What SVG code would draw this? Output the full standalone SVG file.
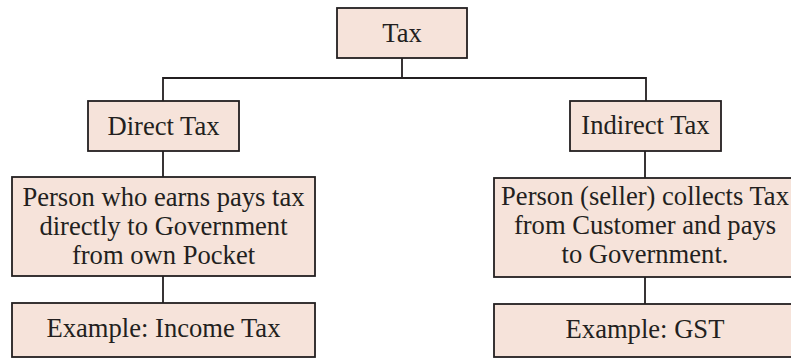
<svg xmlns="http://www.w3.org/2000/svg" width="791" height="358" viewBox="0 0 791 358">
  <style>
    .box { fill: #f6e3da; stroke: #231f20; stroke-width: 1.8; }
    .wire { fill: none; stroke: #231f20; stroke-width: 1.8; }
    .lbl { font-family: "Liberation Serif", "Times New Roman", serif; font-size: 26.6px; fill: #231f20; text-anchor: middle; }
  </style>
  <rect width="791" height="358" fill="#ffffff"/>

  <!-- connectors -->
  <g id="connectors">
    <path class="wire" d="M402 58 V78 M163 101 V78 H646 V101"/>
    <path class="wire" d="M163 151 V177 M163 276 V303"/>
    <path class="wire" d="M645 151 V178 M645 277 V304"/>
  </g>

  <!-- root -->
  <g id="tax">
    <rect class="box" x="337" y="8" width="130" height="50"/>
    <text class="lbl" x="402" y="42">Tax</text>
  </g>

  <!-- left branch -->
  <g id="direct-tax">
    <rect class="box" x="88" y="101" width="151" height="50"/>
    <text class="lbl" x="163.5" y="135">Direct Tax</text>
  </g>
  <g id="direct-desc">
    <rect class="box" x="12" y="177" width="303" height="99"/>
    <text class="lbl" x="163.5" y="206">Person who earns pays tax</text>
    <text class="lbl" x="163.5" y="235">directly to Government</text>
    <text class="lbl" x="163.5" y="264">from own Pocket</text>
  </g>
  <g id="direct-example">
    <rect class="box" x="12" y="303" width="303" height="54"/>
    <text class="lbl" x="163.5" y="337">Example: Income Tax</text>
  </g>

  <!-- right branch -->
  <g id="indirect-tax">
    <rect class="box" x="570" y="101" width="151" height="50"/>
    <text class="lbl" x="645.5" y="134">Indirect Tax</text>
  </g>
  <g id="indirect-desc">
    <rect class="box" x="494" y="178" width="302" height="99"/>
    <text class="lbl" x="645" y="205">Person (seller) collects Tax</text>
    <text class="lbl" x="645" y="234">from Customer and pays</text>
    <text class="lbl" x="645" y="263">to Government.</text>
  </g>
  <g id="indirect-example">
    <rect class="box" x="494" y="304" width="302" height="53"/>
    <text class="lbl" x="645" y="338">Example: GST</text>
  </g>
</svg>
